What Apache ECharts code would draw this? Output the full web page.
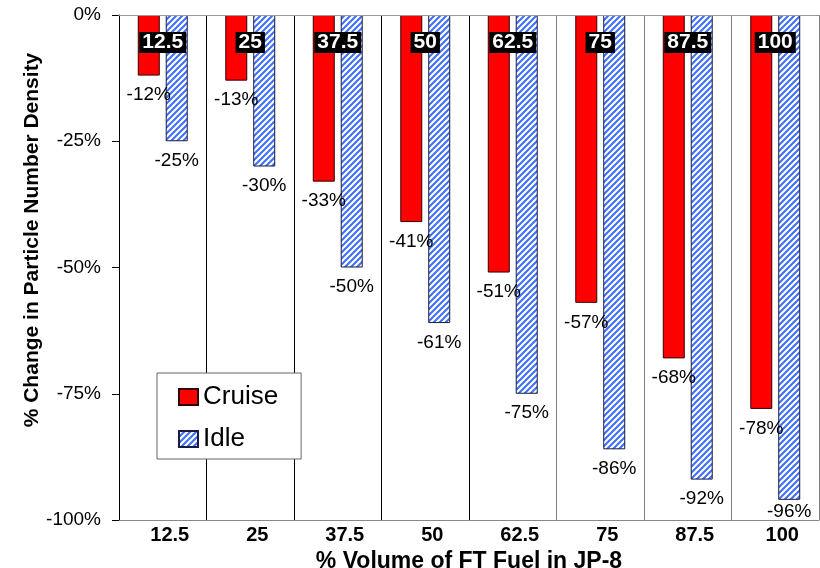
<!DOCTYPE html>
<html><head><meta charset="utf-8">
<script src="https://cdn.jsdelivr.net/npm/echarts@6/dist/echarts.min.js"></script>
<style>html,body{margin:0;padding:0;background:#fff}#c{width:820px;height:568px}</style>
</head><body><div id="c"></div>
<script>
// ---- data ----
const categories = ['12.5', '25', '37.5', '50', '62.5', '75', '87.5', '100'];
const cruise = [-12, -13, -33, -41, -51, -57, -68, -78];
const idle = [-25, -30, -50, -61, -75, -86, -92, -96];
const yMin = -100, yMax = 0, yStep = 25;
const yTitle = '% Change in Particle Number Density';
const xTitle = '% Volume of FT Fuel in JP-8';

// ---- styles ----
const FONT = "'Liberation Sans', Arial, Helvetica, sans-serif";
function hatch() {
  const s = 6;
  const c = document.createElement('canvas');
  c.width = s; c.height = s;
  const g = c.getContext('2d');
  g.fillStyle = '#ffffff'; g.fillRect(0, 0, s, s);
  g.strokeStyle = '#3f6fff'; g.lineWidth = 2.1;
  g.beginPath();
  g.moveTo(-1, s + 1); g.lineTo(s + 1, -1);
  g.moveTo(-1, 1); g.lineTo(1, -1);
  g.moveTo(s - 1, s + 1); g.lineTo(s + 1, s - 1);
  g.stroke();
  return c;
}
const idleFill = { image: hatch(), repeat: 'repeat' };
const valueLabel = {
  show: true, position: 'bottom', distance: 10,
  formatter: p => p.value + '%',
  fontFamily: FONT, fontSize: 19, color: '#000'
};
// keep labels inside the plot area (bottom edge)
function keepInside(params) {
  const r = params.labelRect;
  const limit = 521;
  if (r.y + r.height > limit) {
    return { x: r.x + r.width / 2, y: limit - r.height / 2, align: 'center', verticalAlign: 'middle' };
  }
}

const chart = echarts.init(document.getElementById('c'));
chart.setOption({
  animation: false,
  backgroundColor: '#fff',
  grid: { left: 119, right: 1, top: 15, bottom: 48, containLabel: false, outerBoundsMode: 'none' },
  graphic: [{
    type: 'text', x: 32, y: 240, rotation: Math.PI / 2,
    style: { text: yTitle, font: "bold 21px 'Liberation Sans', Arial, sans-serif", fill: '#000', align: 'center', verticalAlign: 'middle' }
  }],
  legend: {
    orient: 'vertical', left: 157, top: 373,
    itemWidth: 19, itemHeight: 16, itemGap: 16,
    padding: [11, 23, 7, 21],
    backgroundColor: '#fff', borderColor: '#666', borderWidth: 1,
    textStyle: { fontFamily: FONT, fontSize: 26, color: '#000' },
    data: [{ name: 'Cruise', icon: 'rect' }, { name: 'Idle', icon: 'rect' }]
  },
  xAxis: [{
    type: 'category', data: categories, position: 'bottom',
    axisLine: { onZero: false, lineStyle: { color: '#888', width: 1 } },
    axisTick: { show: false },
    axisLabel: { fontFamily: FONT, fontSize: 20, fontWeight: 'bold', color: '#000', margin: 5, interval: 0, padding: [0, 0, 0, 14] },
    splitLine: { show: true, interval: 0, lineStyle: { width: 1, color: ['#000', '#000', '#000', '#000', '#000', '#808080', '#808080', '#808080', '#808080'] } },
    name: xTitle, nameLocation: 'middle', nameGap: 14,
    nameTextStyle: { fontFamily: FONT, fontSize: 23, fontWeight: 'bold', color: '#000' }
  }, {
    type: 'category', data: categories, position: 'top', z: 10,
    axisLine: { lineStyle: { color: '#999', width: 1 } },
    axisTick: { show: false },
    splitLine: { show: false },
    axisLabel: {
      inside: true, margin: 17, interval: 0,
      fontFamily: FONT, fontSize: 21, fontWeight: 'bold', color: '#fff',
      backgroundColor: '#000', padding: [0, 3], lineHeight: 21
    }
  }],
  yAxis: {
    type: 'value', min: yMin, max: yMax, interval: yStep,
    axisLine: { show: true, lineStyle: { color: '#000', width: 1 } },
    axisTick: { show: true, length: 7, lineStyle: { color: '#000' } },
    splitLine: { show: false },
    axisLabel: { formatter: '{value}%', fontFamily: FONT, fontSize: 19, color: '#000', margin: 18 }
  },
  series: [{
    name: 'Cruise', type: 'bar', data: cruise, xAxisIndex: 0,
    barWidth: 22, barGap: '27%',
    itemStyle: { color: '#ff0000', borderColor: '#330000', borderWidth: 1 },
    label: valueLabel, labelLayout: keepInside
  }, {
    name: 'Idle', type: 'bar', data: idle, xAxisIndex: 0,
    barWidth: 22, barGap: '27%',
    itemStyle: { color: idleFill, borderColor: '#1a1a40', borderWidth: 1 },
    label: valueLabel, labelLayout: keepInside
  }]
});
</script></body></html>
